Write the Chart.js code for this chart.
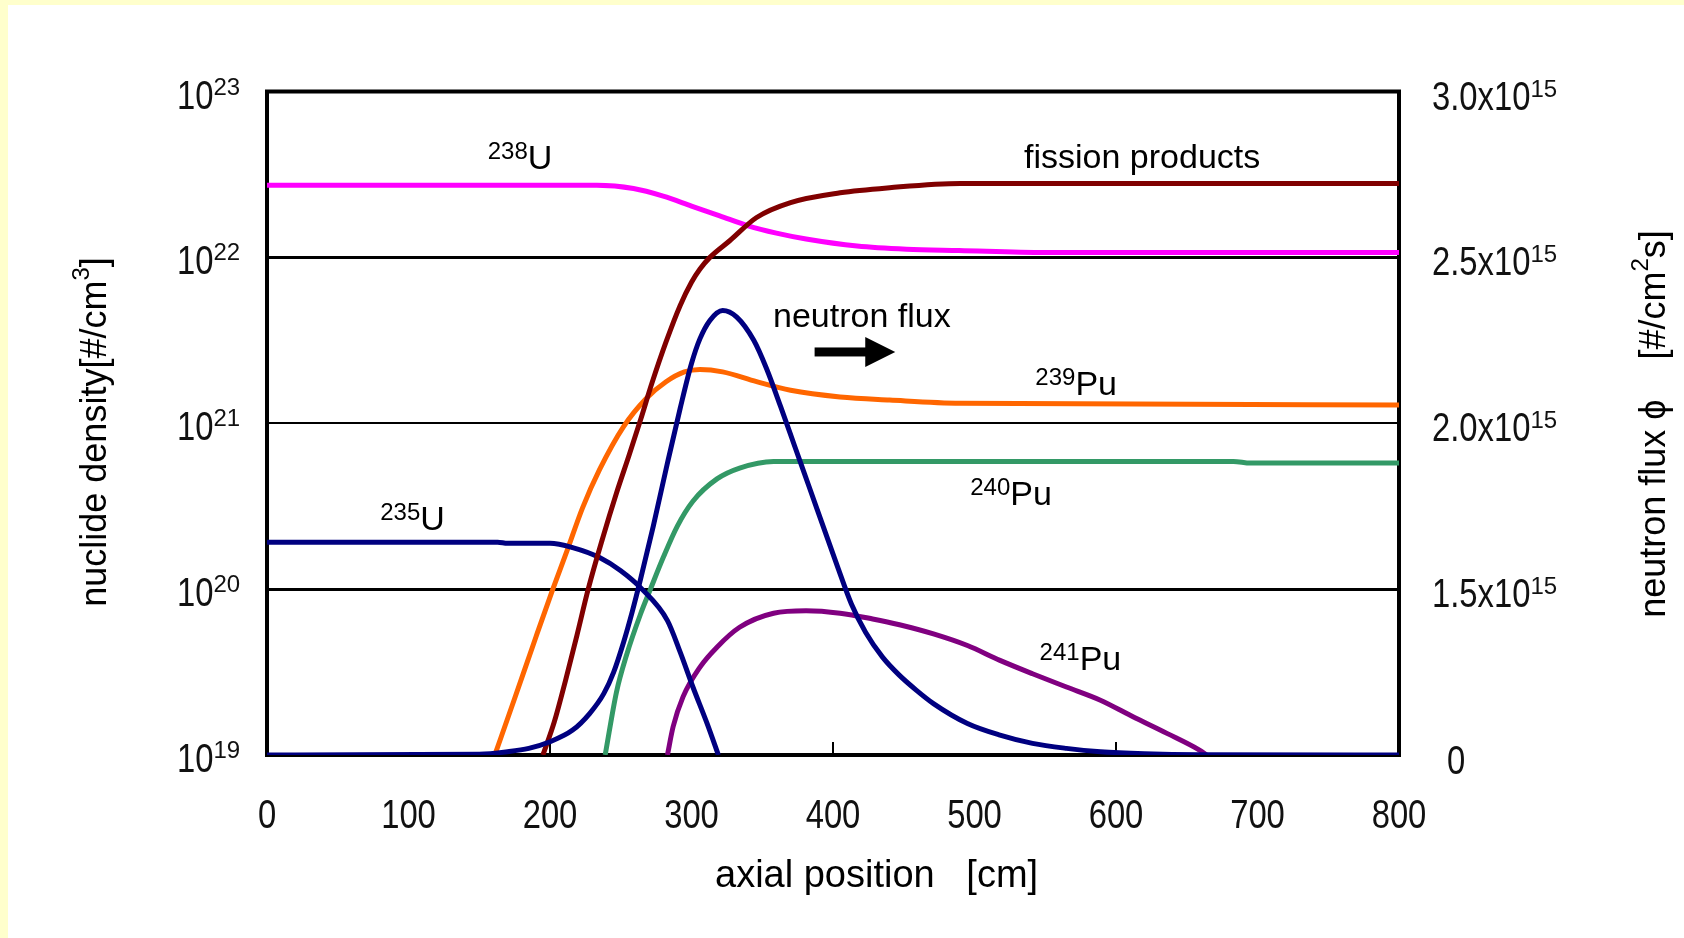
<!DOCTYPE html>
<html>
<head>
<meta charset="utf-8">
<title>Axial nuclide density and neutron flux</title>
<script src="https://cdn.jsdelivr.net/npm/chart.js@4.4.1/dist/chart.umd.min.js"></script>
<style>
  html, body { margin: 0; padding: 0; background: #fff; }
  #box { position: relative; width: 1684px; height: 938px; }
</style>
</head>
<body>
<div id="box"><canvas id="burnChart"></canvas></div>
<script>
// axial position [cm] / nuclide density [#/cm3] for each nuclide
const u238Pos = [0, 233, 259, 280, 300, 320, 340, 360, 381, 417, 452, 489, 550, 800];
const u238Den = [2.72e22, 2.72e22, 2.60e22, 2.34e22, 2.04e22, 1.78e22, 1.55e22, 1.40e22, 1.29e22, 1.17e22, 1.12e22, 1.10e22, 1.07e22, 1.07e22];

const fpPos = [195, 203, 211, 219, 227, 237, 247, 256, 264, 272, 282, 292, 300, 306, 313, 327, 346, 370, 405, 440, 490, 800];
const fpDen = [1e19, 1.58e19, 2.82e19, 5.25e19, 1.0e20, 2.0e20, 3.80e20, 6.46e20, 1.05e21, 1.74e21, 3.09e21, 5.13e21, 7.08e21, 8.51e21, 1.0e22, 1.26e22, 1.74e22, 2.14e22, 2.45e22, 2.63e22, 2.79e22, 2.79e22];

const pu239Pos = [161, 175, 190, 202, 212, 223, 235, 252, 268, 282, 295, 306, 322, 346, 370, 405, 440, 490, 800];
const pu239Den = [1e19, 2.19e19, 5.13e19, 1.0e20, 1.70e20, 3.09e20, 5.25e20, 9.55e20, 1.41e21, 1.78e21, 2.04e21, 2.11e21, 2.04e21, 1.78e21, 1.58e21, 1.44e21, 1.38e21, 1.32e21, 1.29e21];

const pu240Pos = [239, 247, 254, 264, 271, 280, 290, 301, 318, 334, 358, 683, 695, 800];
const pu240Den = [1e19, 2.40e19, 3.98e19, 7.08e19, 1.0e20, 1.55e20, 2.40e20, 3.39e20, 4.62e20, 5.37e20, 5.89e20, 5.89e20, 5.75e20, 5.75e20];

const pu241Pos = [283, 287, 294, 306, 318, 334, 358, 381, 405, 428, 447, 471, 495, 518, 541, 565, 589, 612, 636, 659, 664];
const pu241Den = [1e19, 1.48e19, 2.24e19, 3.39e19, 4.47e19, 5.89e19, 7.16e19, 7.41e19, 7.16e19, 6.61e19, 6.10e19, 5.37e19, 4.57e19, 3.72e19, 3.09e19, 2.57e19, 2.14e19, 1.70e19, 1.35e19, 1.07e19, 1e19];

const u235Pos = [0, 163, 170, 200, 216, 235, 250, 265, 283, 292, 301, 311, 319];
const u235Den = [1.92e20, 1.92e20, 1.89e20, 1.89e20, 1.78e20, 1.55e20, 1.29e20, 1.0e20, 6.46e19, 4.17e19, 2.57e19, 1.55e19, 1e19];

// neutron flux, in units of 1e15 #/cm2s
const fluxPos = [0, 150, 170, 185, 200, 216, 228, 238, 245, 252, 258, 264, 273, 283, 292, 300, 306, 313, 322, 332, 344, 353, 363, 373, 383, 393, 403, 413, 423, 435, 447, 459, 471, 495, 518, 541, 565, 589, 620, 660, 800];
const fluxE15 = [0, 0.0075, 0.03, 0.06, 0.12, 0.225, 0.375, 0.555, 0.75, 1.02, 1.29, 1.53, 1.69, 1.88, 2.045, 2.18, 2.255, 2.31, 2.34, 2.32, 2.25, 2.165, 2.05, 1.93, 1.81, 1.69, 1.57, 1.365, 1.11, 0.885, 0.72, 0.585, 0.465, 0.285, 0.18, 0.105, 0.06, 0.03, 0.012, 0.003, 0];

// axis ticks
const posTicks = [0, 100, 200, 300, 400, 500, 600, 700, 800];
const innerTicks = [200, 400, 600];
const densityExp = [19, 20, 21, 22, 23];
const fluxTicks = [0, 1.5, 2.0, 2.5, 3.0];

// curve labels, anchored in data coordinates (cm, #/cm3)
const curveLabels = [
  { sup: '238', text: 'U', x: 156, y: 3.41e22 },
  { sup: '235', text: 'U', x: 80, y: 2.28e20 },
  { sup: '239', text: 'Pu', x: 543, y: 1.48e21 },
  { sup: '240', text: 'Pu', x: 497, y: 3.22e20 },
  { sup: '241', text: 'Pu', x: 546, y: 3.26e19 },
  { sup: '', text: 'fission products', x: 535, y: 3.48e22 },
  { sup: '', text: 'neutron flux', x: 357.6, y: 3.80e21 }
];
const arrowFrom = [387, 2.69e21];
const arrowTo = [444, 2.69e21];

const FONT = '"Liberation Sans", Arial, Helvetica, sans-serif';

function pairs(xs, ys) {
  return xs.map((x, i) => ({ x: x, y: ys[i] }));
}

// Right axis: the labelled steps are evenly spaced, but 0 -> 1.5 takes one step
class FluxScale extends Chart.LinearScale {
  toUnits(v) {
    return v <= 1.5 ? v / 1.5 : 1 + (v - 1.5) / 0.5;
  }
  getPixelForValue(value) {
    return this.getPixelForDecimal(this.toUnits(value) / 4);
  }
  getValueForPixel(pixel) {
    const u = this.getDecimalForPixel(pixel) * 4;
    return u <= 1 ? u * 1.5 : 1.5 + (u - 1) * 0.5;
  }
}
FluxScale.id = 'fluxSteps';
FluxScale.defaults = Chart.LinearScale.defaults;
Chart.register(FluxScale);

function put(ctx, str, x, y, size, sx) {
  ctx.save();
  ctx.font = size + 'px ' + FONT;
  ctx.textAlign = 'left';
  ctx.textBaseline = 'alphabetic';
  const w = ctx.measureText(str).width * sx;
  ctx.translate(x, y);
  ctx.scale(sx, 1);
  ctx.fillText(str, 0, 0);
  ctx.restore();
  return w;
}

function textWidth(ctx, str, size, sx) {
  ctx.save();
  ctx.font = size + 'px ' + FONT;
  const w = ctx.measureText(str).width * sx;
  ctx.restore();
  return w;
}

const pagePlugin = {
  id: 'page',
  beforeDraw(chart) {
    const ctx = chart.ctx;
    ctx.save();
    ctx.fillStyle = '#ffffcc';
    ctx.fillRect(0, 0, chart.width, chart.height);
    ctx.fillStyle = '#ffffff';
    ctx.fillRect(8, 5, chart.width - 8, chart.height - 5);
    ctx.restore();
  },
  beforeDatasetsDraw(chart) {
    const { ctx, chartArea: a } = chart;
    const xs = chart.scales.x;
    ctx.save();
    ctx.strokeStyle = '#000';
    ctx.lineWidth = 2;
    innerTicks.forEach(v => {
      const px = xs.getPixelForValue(v);
      ctx.beginPath();
      ctx.moveTo(px, a.bottom);
      ctx.lineTo(px, a.bottom - 13);
      ctx.stroke();
    });
    ctx.lineWidth = 4;
    ctx.strokeRect(a.left, a.top, a.right - a.left, a.bottom - a.top);
    ctx.restore();
  },
  afterDraw(chart) {
    const { ctx, chartArea: a } = chart;
    const xs = chart.scales.x, ys = chart.scales.y, fs = chart.scales.y2;
    ctx.save();
    ctx.fillStyle = '#111';

    // left ticks 10^n
    ys.ticks.forEach((t, i) => {
      const gy = ys.getPixelForValue(t.value);
      const w = put(ctx, '10', a.left - 90, gy + 17, 41, 0.8);
      put(ctx, String(densityExp[i]), a.left - 90 + w, gy + 3, 24, 1);
    });

    // right ticks
    fluxTicks.forEach(v => {
      const gy = fs.getPixelForValue(v);
      if (v === 0) {
        put(ctx, '0', a.right + 48, gy + 19, 41, 0.8);
      } else {
        const w = put(ctx, v.toFixed(1) + 'x10', a.right + 33, gy + 18, 41, 0.8);
        put(ctx, '15', a.right + 33 + w, gy + 5, 24, 1);
      }
    });

    // bottom ticks
    posTicks.forEach(v => {
      const px = xs.getPixelForValue(v);
      const w = textWidth(ctx, String(v), 41, 0.8);
      put(ctx, String(v), px - w / 2, a.bottom + 73, 41, 0.8);
    });

    // axis titles
    ctx.fillStyle = '#000';
    put(ctx, 'axial position   [cm]', 715, 887, 38, 1);

    ctx.save();
    ctx.translate(93, 432);
    ctx.rotate(-Math.PI / 2);
    {
      const p1 = 'nuclide density[#/cm', p2 = '3', p3 = ']';
      const total = textWidth(ctx, p1, 36, 1) + textWidth(ctx, p2, 24, 1) + textWidth(ctx, p3, 36, 1);
      let x = -total / 2;
      x += put(ctx, p1, x, 13, 36, 1);
      x += put(ctx, p2, x, -4, 24, 1);
      put(ctx, p3, x, 13, 36, 1);
    }
    ctx.restore();

    ctx.save();
    ctx.translate(1652, 424);
    ctx.rotate(-Math.PI / 2);
    {
      const p1 = 'neutron flux \u03d5    [#/cm', p2 = '2', p3 = 's]';
      const total = textWidth(ctx, p1, 36, 1) + textWidth(ctx, p2, 24, 1) + textWidth(ctx, p3, 36, 1);
      let x = -total / 2;
      x += put(ctx, p1, x, 13, 36, 1);
      x += put(ctx, p2, x, -4, 24, 1);
      put(ctx, p3, x, 13, 36, 1);
    }
    ctx.restore();

    // curve labels
    curveLabels.forEach(l => {
      let x = xs.getPixelForValue(l.x);
      const y = ys.getPixelForValue(l.y);
      if (l.sup) x += put(ctx, l.sup, x, y - 10, 24, 1);
      put(ctx, l.text, x, y, 34, 1);
    });

    // flux arrow
    const x0 = xs.getPixelForValue(arrowFrom[0]);
    const x1 = xs.getPixelForValue(arrowTo[0]);
    const ay = ys.getPixelForValue(arrowFrom[1]);
    ctx.fillRect(x0, ay - 4.5, x1 - x0 - 28, 9);
    ctx.beginPath();
    ctx.moveTo(x1 - 30, ay - 15);
    ctx.lineTo(x1, ay);
    ctx.lineTo(x1 - 30, ay + 15);
    ctx.closePath();
    ctx.fill();

    ctx.restore();
  }
};

const curve = (data, color, axis) => ({
  data: data,
  borderColor: color,
  backgroundColor: color,
  borderWidth: 5,
  yAxisID: axis || 'y',
  pointRadius: 0,
  fill: false,
  cubicInterpolationMode: 'monotone'
});

new Chart(document.getElementById('burnChart'), {
  type: 'line',
  data: {
    datasets: [
      curve(pairs(fluxPos, fluxE15), '#000080', 'y2'),
      curve(pairs(fpPos, fpDen), '#800000'),
      curve(pairs(u235Pos, u235Den), '#000080'),
      curve(pairs(pu239Pos, pu239Den), '#ff6600'),
      curve(pairs(pu240Pos, pu240Den), '#339966'),
      curve(pairs(pu241Pos, pu241Den), '#800080'),
      curve(pairs(u238Pos, u238Den), '#ff00ff')
    ]
  },
  options: {
    responsive: true,
    maintainAspectRatio: false,
    animation: false,
    layout: { padding: { left: 267, top: 91.5, right: 285, bottom: 183 } },
    plugins: { legend: { display: false }, tooltip: { enabled: false } },
    scales: {
      x: {
        type: 'linear', min: 0, max: 800,
        afterBuildTicks: s => { s.ticks = posTicks.map(v => ({ value: v })); },
        grid: { display: false, drawTicks: false },
        border: { display: false },
        ticks: { display: false }
      },
      y: {
        type: 'logarithmic', position: 'left', min: 1e19, max: 1e23,
        afterBuildTicks: s => { s.ticks = densityExp.map(e => ({ value: Math.pow(10, e) })); },
        grid: {
          color: '#000',
          drawTicks: false,
          lineWidth: c => (c.tick && Math.round(Math.log10(c.tick.value)) === 21 ? 2 : 3)
        },
        border: { display: false },
        ticks: { display: false }
      },
      y2: {
        type: 'fluxSteps', position: 'right', min: 0, max: 3,
        afterBuildTicks: s => { s.ticks = fluxTicks.map(v => ({ value: v })); },
        grid: { display: false, drawTicks: false },
        border: { display: false },
        ticks: { display: false }
      }
    }
  },
  plugins: [pagePlugin]
});
</script>
</body>
</html>
